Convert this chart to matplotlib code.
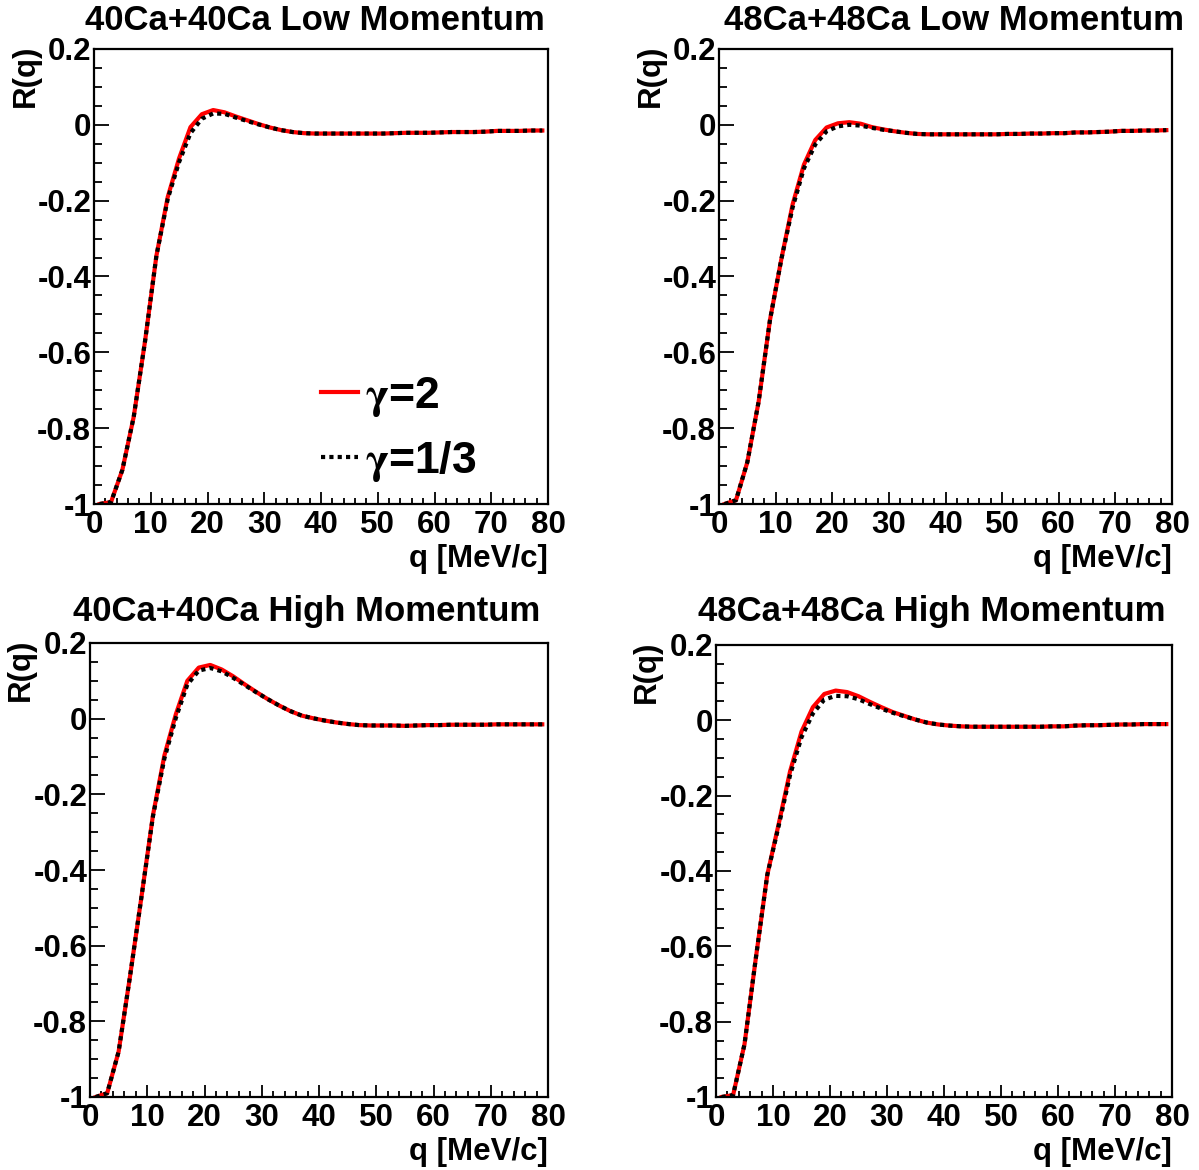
import matplotlib
matplotlib.use("Agg")
import matplotlib.pyplot as plt
from matplotlib.ticker import MultipleLocator, FixedLocator, FixedFormatter

plt.rcParams['font.family'] = ['Liberation Sans', 'DejaVu Sans']
plt.rcParams['font.weight'] = 'bold'
plt.rcParams['axes.unicode_minus'] = False
plt.rcParams['mathtext.fontset'] = 'stix'

q = [1, 3, 5, 7, 9, 11, 13, 15, 17, 19, 21, 23, 25, 27, 29, 31, 33, 35, 37, 39,
     41, 43, 45, 47, 49, 51, 53, 55, 57, 59, 61, 63, 65, 67, 69, 71, 73, 75, 77, 79]

# 40Ca+40Ca Low Momentum
ca40_low_g2 = [-1.000, -0.995, -0.910, -0.770, -0.570, -0.345, -0.190, -0.088, -0.006, 0.028,
               0.039, 0.033, 0.022, 0.012, 0.002, -0.007, -0.014, -0.019, -0.022, -0.023,
               -0.023, -0.023, -0.023, -0.023, -0.023, -0.023, -0.022, -0.021, -0.021, -0.021,
               -0.020, -0.019, -0.019, -0.019, -0.018, -0.016, -0.016, -0.016, -0.015, -0.015]
ca40_low_g13 = [-1.000, -0.995, -0.910, -0.770, -0.570, -0.345, -0.195, -0.098, -0.022, 0.016,
                0.030, 0.029, 0.019, 0.010, 0.001, -0.007, -0.014, -0.019, -0.022, -0.023,
                -0.023, -0.023, -0.023, -0.023, -0.023, -0.023, -0.022, -0.021, -0.021, -0.021,
                -0.020, -0.019, -0.019, -0.019, -0.018, -0.016, -0.016, -0.016, -0.015, -0.015]

# 48Ca+48Ca Low Momentum
ca48_low_g2 = [-1.000, -0.990, -0.890, -0.730, -0.515, -0.355, -0.210, -0.105, -0.040, -0.007,
               0.004, 0.007, 0.003, -0.006, -0.012, -0.017, -0.021, -0.024, -0.025, -0.025,
               -0.025, -0.025, -0.025, -0.025, -0.025, -0.024, -0.024, -0.023, -0.023, -0.022,
               -0.022, -0.020, -0.020, -0.019, -0.018, -0.016, -0.016, -0.015, -0.015, -0.014]
ca48_low_g13 = [-1.000, -0.990, -0.890, -0.730, -0.515, -0.355, -0.218, -0.115, -0.052, -0.017,
                -0.004, 0.000, -0.002, -0.008, -0.013, -0.017, -0.021, -0.024, -0.025, -0.025,
                -0.025, -0.025, -0.025, -0.025, -0.025, -0.024, -0.024, -0.023, -0.023, -0.022,
                -0.022, -0.020, -0.020, -0.019, -0.018, -0.016, -0.016, -0.015, -0.015, -0.014]

# 40Ca+40Ca High Momentum
ca40_high_g2 = [-1.000, -0.990, -0.880, -0.680, -0.470, -0.255, -0.097, 0.012, 0.100, 0.135,
                0.142, 0.130, 0.112, 0.091, 0.071, 0.052, 0.035, 0.020, 0.008, 0.001,
                -0.005, -0.010, -0.014, -0.017, -0.018, -0.018, -0.018, -0.019, -0.018, -0.017,
                -0.017, -0.016, -0.016, -0.016, -0.016, -0.015, -0.015, -0.015, -0.015, -0.015]
ca40_high_g13 = [-1.000, -0.990, -0.880, -0.680, -0.470, -0.258, -0.105, 0.002, 0.090, 0.127,
                 0.134, 0.125, 0.108, 0.089, 0.070, 0.052, 0.035, 0.020, 0.008, 0.001,
                 -0.005, -0.010, -0.014, -0.017, -0.018, -0.018, -0.018, -0.019, -0.018, -0.017,
                 -0.017, -0.016, -0.016, -0.016, -0.016, -0.015, -0.015, -0.015, -0.015, -0.015]

# 48Ca+48Ca High Momentum
ca48_high_g2 = [-1.000, -0.995, -0.860, -0.630, -0.410, -0.275, -0.135, -0.030, 0.035, 0.070,
                0.079, 0.075, 0.064, 0.049, 0.035, 0.022, 0.012, 0.002, -0.006, -0.011,
                -0.014, -0.016, -0.017, -0.017, -0.017, -0.017, -0.017, -0.017, -0.017, -0.016,
                -0.016, -0.014, -0.013, -0.013, -0.012, -0.011, -0.011, -0.010, -0.010, -0.010]
ca48_high_g13 = [-1.000, -0.995, -0.860, -0.630, -0.410, -0.280, -0.145, -0.045, 0.018, 0.055,
                 0.065, 0.064, 0.056, 0.043, 0.031, 0.020, 0.011, 0.002, -0.006, -0.011,
                 -0.014, -0.016, -0.017, -0.017, -0.017, -0.017, -0.017, -0.017, -0.017, -0.016,
                 -0.016, -0.014, -0.013, -0.013, -0.012, -0.011, -0.011, -0.010, -0.010, -0.010]

titles = ["40Ca+40Ca Low Momentum", "48Ca+48Ca Low Momentum",
          "40Ca+40Ca High Momentum", "48Ca+48Ca High Momentum"]
series_g2 = [ca40_low_g2, ca48_low_g2, ca40_high_g2, ca48_high_g2]
series_g13 = [ca40_low_g13, ca48_low_g13, ca40_high_g13, ca48_high_g13]
labels = [r"$\mathrm{\gamma}$=2", r"$\mathrm{\gamma}$=1/3"]
ytick_vals = [-1.0, -0.8, -0.6, -0.4, -0.2, 0.0, 0.2]
ytick_labels = ["-1", "-0.8", "-0.6", "-0.4", "-0.2", "0", "0.2"]
xtick_vals = [0, 10, 20, 30, 40, 50, 60, 70, 80]
xlabel = "q [MeV/c]"
ylabel = "R(q)"

W, H = 1199, 1170
fig = plt.figure(figsize=(W / 100, H / 100), dpi=100)

# pixel boxes: left, right, top, bottom
boxes = [(94, 548, 49, 504), (719, 1172, 49, 504),
         (90, 548, 643, 1097), (716, 1172, 645, 1097)]
title_pos = [(315, 21), (954, 21), (307, 612), (932, 612)]

for i, (l, r, t, b) in enumerate(boxes):
    ax = fig.add_axes([l / W, 1 - b / H, (r - l) / W, (b - t) / H])
    ax.plot(q, series_g2[i], color='red', lw=3.0, label=labels[0], zorder=2)
    ax.plot(q, series_g13[i], color='black', lw=3.0, linestyle=(0, (1, 1)),
            label=labels[1], zorder=3)
    ax.set_xlim(0, 80)
    ax.set_ylim(-1, 0.2)
    ax.yaxis.set_major_locator(FixedLocator(ytick_vals))
    ax.yaxis.set_major_formatter(FixedFormatter(ytick_labels))
    ax.yaxis.set_minor_locator(MultipleLocator(0.05))
    ax.xaxis.set_major_locator(FixedLocator(xtick_vals))
    ax.xaxis.set_minor_locator(MultipleLocator(2))
    ax.tick_params(which='both', direction='in', top=False, right=False,
                   width=1.3, labelsize=22.5)
    ax.tick_params(axis='y', which='major', length=11, pad=2)
    ax.tick_params(axis='y', which='minor', length=5.5)
    ax.tick_params(axis='x', which='major', length=9, pad=4)
    ax.tick_params(axis='x', which='minor', length=4.5)
    for lab in ax.get_xticklabels() + ax.get_yticklabels():
        lab.set_fontweight('bold')
    for sp in ax.spines.values():
        sp.set_linewidth(1.6)
    ax.set_xlabel(xlabel, loc='right', fontsize=22.5, fontweight='bold', labelpad=3)
    ax.set_ylabel(ylabel, loc='top', fontsize=22.5, fontweight='bold')
    ax.yaxis.set_label_coords(-0.118, 1.01)
    tx, ty = title_pos[i]
    fig.text(tx / W, 1 - ty / H, titles[i], ha='center', va='center',
             fontsize=25, fontweight='bold')
    if i == 0:
        ax.legend(loc='lower left', bbox_to_anchor=(0.46, 0.005), frameon=False,
                  handlelength=0.85, handletextpad=0.15,
                  labelspacing=0.45, borderaxespad=0.0,
                  prop={'weight': 'bold', 'size': 32})

fig.savefig("out.png", dpi=100)
